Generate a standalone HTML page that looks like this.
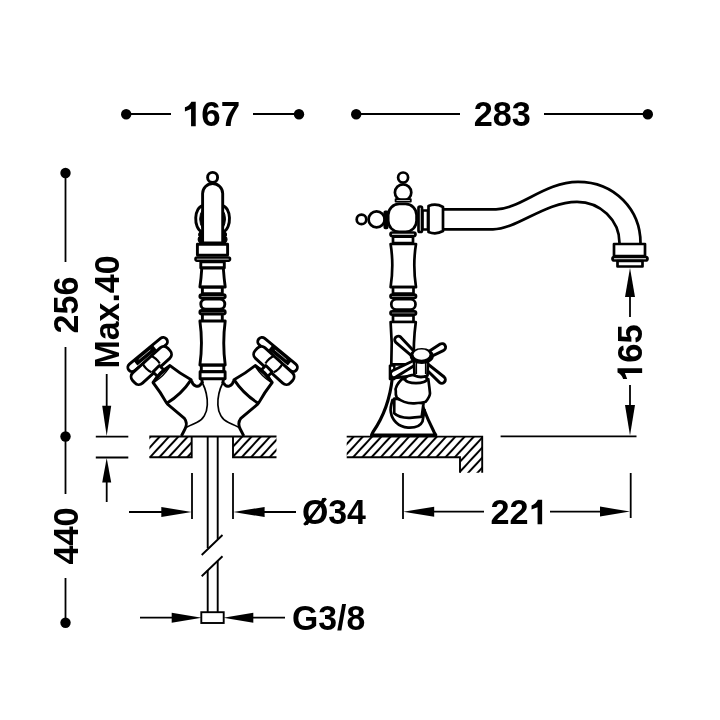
<!DOCTYPE html>
<html><head><meta charset="utf-8">
<style>
html,body{margin:0;padding:0;background:#fff;}
svg{display:block;will-change:transform;}
text{font-family:"Liberation Sans",sans-serif;font-weight:bold;fill:#000;}
</style></head>
<body>
<svg width="720" height="720" viewBox="0 0 720 720">
<defs>
<pattern id="hL" patternUnits="userSpaceOnUse" width="6.835" height="20" patternTransform="translate(177.55,437.5) rotate(42.70)">
<line x1="0" y1="-1" x2="0" y2="21" stroke="#000" stroke-width="2"/><line x1="6.835" y1="-1" x2="6.835" y2="21" stroke="#000" stroke-width="2"/>
</pattern>
<pattern id="hR" patternUnits="userSpaceOnUse" width="6.835" height="20" patternTransform="translate(260.0,437.5) rotate(42.70)">
<line x1="0" y1="-1" x2="0" y2="21" stroke="#000" stroke-width="2"/><line x1="6.835" y1="-1" x2="6.835" y2="21" stroke="#000" stroke-width="2"/>
</pattern>
<pattern id="hF" patternUnits="userSpaceOnUse" width="6.798" height="20" patternTransform="translate(417.55,437.5) rotate(42.70)">
<line x1="0" y1="-1" x2="0" y2="21" stroke="#000" stroke-width="2"/><line x1="6.798" y1="-1" x2="6.798" y2="21" stroke="#000" stroke-width="2"/>
</pattern>




</defs>
<rect width="720" height="720" fill="#fff"/>

<!-- ========== DIMENSIONS ========== -->
<g stroke="#000" stroke-width="1.8" fill="none">
  <!-- 167 -->
  <line x1="126" y1="114" x2="171" y2="114"/>
  <line x1="253" y1="114" x2="299" y2="114"/>
  <!-- 283 -->
  <line x1="356" y1="114" x2="460" y2="114"/>
  <line x1="544" y1="114" x2="648" y2="114"/>
  <!-- 256 -->
  <line x1="65.5" y1="173" x2="65.5" y2="262"/>
  <line x1="65.5" y1="347" x2="65.5" y2="436.5"/>
  <!-- 440 -->
  <line x1="65.5" y1="436.5" x2="65.5" y2="494"/>
  <line x1="65.5" y1="578" x2="65.5" y2="623"/>
  <!-- max 40 -->
  <line x1="106.7" y1="374" x2="106.7" y2="410"/>
  <line x1="95.8" y1="436.7" x2="128.3" y2="436.7"/>
  <line x1="95.8" y1="457.5" x2="128.3" y2="457.5"/>
  <line x1="106.7" y1="478" x2="106.7" y2="502"/>
  <!-- Ø34 -->
  <line x1="192" y1="473" x2="192" y2="519"/>
  <line x1="233" y1="473" x2="233" y2="519"/>
  <line x1="129" y1="512" x2="170" y2="512"/>
  <line x1="255" y1="512" x2="296" y2="512"/>
  <!-- G3/8 -->
  <line x1="140" y1="617.7" x2="180" y2="617.7"/>
  <line x1="245" y1="617.7" x2="285" y2="617.7"/>
  <!-- 221 -->
  <line x1="403" y1="473" x2="403" y2="519"/>
  <line x1="630.7" y1="473" x2="630.7" y2="518"/>
  <line x1="420" y1="511.7" x2="484" y2="511.7"/>
  <line x1="550" y1="511.7" x2="615" y2="511.7"/>
  <!-- 165 -->
  <line x1="630" y1="285" x2="630" y2="317"/>
  <line x1="630" y1="385" x2="630" y2="420"/>
  <line x1="500.6" y1="436.3" x2="636.5" y2="436.3"/>
</g>
<g fill="#000">
  <circle cx="126.2" cy="114.2" r="5.2"/>
  <circle cx="299" cy="114.2" r="5.2"/>
  <circle cx="356.2" cy="114.2" r="5.2"/>
  <circle cx="647.8" cy="114.2" r="5.2"/>
  <circle cx="65.5" cy="173" r="5.2"/>
  <circle cx="65.5" cy="436.5" r="5.2"/>
  <circle cx="65.5" cy="622.7" r="5.2"/>
  <!-- arrowheads -->
  <polygon points="102.2,405.8 111.2,405.8 106.7,436"/>
  <polygon points="102.2,482.5 111.2,482.5 106.7,458"/>
  <polygon points="161.3,507 161.3,517 191.7,512"/>
  <polygon points="264.6,507 264.6,517 233.3,512"/>
  <polygon points="171.7,612.7 171.7,622.7 201.7,617.7"/>
  <polygon points="253.3,612.7 253.3,622.7 223.3,617.7"/>
  <polygon points="434.2,506.7 434.2,516.7 403.3,511.7"/>
  <polygon points="600,506.6 600,516.6 630,511.6"/>
  <polygon points="625,297 635,297 630,268"/>
  <polygon points="625,405 635,405 630,435.5"/>
</g>
<g fill="#000">
<g transform="translate(181.95,126.25) scale(0.9971,1)"><path transform="translate(0.00,0) scale(35.0)" d="M0.395,-0.70 V0 H0.261 V-0.49 L0.085,-0.425 V-0.54 C0.17,-0.57 0.235,-0.625 0.27,-0.70 Z"/><text x="19.47" y="0" font-size="35.0">67</text></g>
<g transform="translate(473.7,126.45) scale(0.9744,1)"><text x="0.00" y="0" font-size="35.2">283</text></g>
<g transform="translate(301.9,524.05) scale(0.9826,1)"><text x="0.00" y="0" font-size="34.5">Ø34</text></g>
<line x1="304.2" y1="524.8" x2="325.9" y2="498.4" stroke="#000" stroke-width="2.6"/>
<g transform="translate(490.6,524.3) scale(0.9799,1)"><text x="0.00" y="0" font-size="34.9">22</text><path transform="translate(38.82,0) scale(34.9)" d="M0.395,-0.70 V0 H0.261 V-0.49 L0.085,-0.425 V-0.54 C0.17,-0.57 0.235,-0.625 0.27,-0.70 Z"/></g>
<g transform="translate(291.95,629.7) scale(0.944,1)"><text x="0.00" y="0" font-size="35.8">G3/8</text></g>
<g transform="translate(77.65,333.4) rotate(-90) scale(0.9799,1)"><text x="0.00" y="0" font-size="34.8">256</text></g>
<g transform="translate(77.65,564.6) rotate(-90) scale(0.9856,1)"><text x="0.00" y="0" font-size="34.8">440</text></g>
<g transform="translate(119.2,368.5) rotate(-90) scale(0.9741,1)"><text x="0.00" y="0" font-size="34.8">Max.40</text></g>
<g transform="translate(642.15,381.9) rotate(-90) scale(0.9801,1)"><path transform="translate(0.00,0) scale(35.2)" d="M0.395,-0.70 V0 H0.261 V-0.49 L0.085,-0.425 V-0.54 C0.17,-0.57 0.235,-0.625 0.27,-0.70 Z"/><text x="19.58" y="0" font-size="35.2">65</text></g>
</g>

<!-- ========== COUNTERTOPS ========== -->
<g>
  <rect x="149.4" y="436.5" width="42.3" height="20.8" fill="url(#hL)"/>
  <rect x="233" y="436.5" width="43.5" height="20.8" fill="url(#hR)"/>
  <path d="M346.7,436.6 H482.2 V472.8 H460 V457.2 H346.7 Z" fill="url(#hF)"/>
</g>
<g stroke="#000" stroke-width="1.9" fill="none">
  <path d="M149.4,436.5 H276.5"/>
  <path d="M149.4,457.3 H191.7 V436.5"/>
  <path d="M276.5,457.3 H233 V436.5"/>
  <path d="M346.7,436.6 H482.2 V472.8"/>
  <path d="M346.7,457.2 H460 V472.8"/>
  <!-- pipe -->
  <path d="M207.7,436.5 V548 M217.7,436.5 V539 M207.7,570 V612 M217.7,561 V612"/>
  <path d="M201.7,555 L222.5,535 M201.7,576.3 L222.5,556.3"/>
  <rect x="201.3" y="612.2" width="22.4" height="10.8" fill="#fff"/>
</g>

<!-- ========== LEFT FAUCET ========== -->
<g stroke="#000" stroke-width="1.7" fill="none">
  <path id="thinL" d="M202.5,383 C206,390 207.6,398 207.3,405 C207,413 203,420 196.7,422.5 C192,424.5 188.5,426 185.5,428"/>
  <path d="M222.7,383 C219.2,390 217.6,398 217.9,405 C218.2,413 222.2,420 228.5,422.5 C233.2,424.5 236.7,426 239.7,428"/>
</g>
<g id="valveL" stroke="#000" stroke-width="2.9" fill="#fff" stroke-linejoin="round">
  <!-- outer contour base -->
  <path d="M166.9,403.7 L184.4,418.3 Q188,423 185,429 L181.4,436" fill="none"/>
  <!-- joint bump -->
  <path d="M191.5,380.6 C192.5,386 199,389 201.6,382.8" fill="none"/>
  <g transform="translate(161.5,374) rotate(45)">
    <g transform="rotate(5.5,-23.6,-4)">
      <rect x="-27.85" y="-28.4" width="8.5" height="48.8" rx="4.25"/>
      <path d="M-24.8,-14 V11" stroke-width="6.5" fill="none"/>
      <path d="M-25.4,-9 V6" stroke-width="0.6" stroke="#fff" fill="none"/>
    </g>
    <rect x="-20.3" y="-22.7" width="14.2" height="47.8" rx="5.5" transform="rotate(2.7,-13.2,1.2)"/>
    <path d="M-21,-5.2 Q-14.5,-7.8 -8.6,-6.2 M-21,5.9 Q-14.5,8.2 -8.3,5.8" stroke-width="2.2" fill="none"/>
    <rect x="-7.5" y="-4.5" width="7.5" height="9"/>
    <path d="M0,-12 Q13,-13.5 25,-17 Q28.5,0 24.5,17 Q12,13.5 0,12 Q-1.5,0 0,-12 Z"/>
    <path d="M0,-12 Q-3.5,0 0,12" stroke-width="2.4" fill="none"/>
    <path d="M0.8,-10.5 Q3,0 0.8,10.5" stroke-width="1.5" fill="none"/>
  </g>
</g>
<use href="#valveL" transform="translate(425.2,0) scale(-1,1)"/>
<g id="lf" stroke="#000" stroke-width="2.9" fill="#fff" stroke-linejoin="round">
  <!-- handle top -->
  <circle cx="212.6" cy="177.4" r="5"/>
  <path d="M202.6,206 A7.2,12.9 0 0 0 201.4,231.5" fill="none"/>
  <path d="M222.6,206 A7.2,12.9 0 0 1 223.8,231.5" fill="none"/>
  <path d="M202.6,209.5 Q196.8,218.5 202.6,229 Z" fill="#000" stroke-width="1"/>
  <path d="M222.6,209.5 Q228.4,218.5 222.6,229 Z" fill="#000" stroke-width="1"/>
  <path d="M201.6,231 C198.2,232.5 198,235.5 199.8,236.5 C197.6,237.5 197.8,241 199.6,242.5 L202.6,242.5 L202.6,231 Z" fill="#000" stroke-width="1.2"/>
  <path d="M223.6,231 C227,232.5 227.2,235.5 225.4,236.5 C227.6,237.5 227.4,241 225.6,242.5 L222.6,242.5 L222.6,231 Z" fill="#000" stroke-width="1.2"/>
  <path d="M202.6,243 V193.6 A10.05,10.05 0 0 1 222.7,193.6 V243 Z"/>
  <rect x="197.4" y="244.3" width="30.2" height="10.8" />
  <rect x="195.4" y="257.5" width="34.7" height="3.2" rx="1.6" stroke-width="2.4"/>
  <rect x="200.8" y="261.8" width="23.5" height="6.2"/>
  <path d="M201.8,268 L223.3,268 Q224,278 225.2,287 L199.9,287 Q201.2,278 201.8,268 Z"/>
  <rect x="202.4" y="287.2" width="19.9" height="6.4"/>
  <rect x="199.9" y="294.6" width="25.3" height="3.4" rx="1.7"/>
  <rect x="200.8" y="299" width="24" height="10.15" rx="5"/>
  <rect x="199.9" y="310.5" width="25.3" height="3.4" rx="1.7"/>
  <rect x="202.4" y="314" width="19.9" height="7.5"/>
  <path d="M199.9,321 Q203,343 199.9,365 H225.2 Q222.3,343 225.2,321 Z"/>
  <rect x="201.3" y="365.2" width="22.5" height="6.5"/>
  <rect x="200.1" y="371.8" width="25" height="7"/>
  <path d="M201.8,379.5 Q202,381.5 202.6,383.5 M223.4,379.5 Q223.2,381.5 222.6,383.5" fill="none"/>
</g>

<!-- ========== RIGHT FAUCET ========== -->
<g id="rf" stroke="#000" stroke-width="2.7" fill="#fff" stroke-linejoin="round">
  <!-- spout -->
  <path d="M444,209.3 H496 C520,209.3 545,181.8 578,181.8 C615,181.8 640.5,210 640.5,243 M444,229.3 H493 C517,229.3 545,201.8 577,201.8 C600,201.8 619.5,220 619.5,243" fill="none"/>
  <rect x="614" y="244" width="31" height="12" />
  <rect x="612.5" y="257" width="35" height="3.5" rx="1.75"/>
  <rect x="617.5" y="261" width="25" height="5.5"/>
  <!-- body -->
  <circle cx="403.1" cy="177.5" r="5"/>
  <circle cx="403.1" cy="192.5" r="8.2"/>
  <rect x="395.6" y="199.2" width="15.2" height="2.4" stroke-width="1.8"/>
  <circle cx="361.5" cy="219.4" r="4.8"/>
  <circle cx="376.6" cy="219.4" r="8"/>
  <rect x="384.8" y="211.8" width="2.4" height="16" rx="0.5"/>
  <rect x="388.2" y="203.95" width="28.35" height="27.9" rx="11" ry="11"/>
  <rect x="418.5" y="206.5" width="3.5" height="25.5" rx="1.5"/>
  <rect x="422.5" y="210.5" width="5.5" height="19"/>
  <path d="M428.5,206 Q436,203 443,207 V231 Q436,235 428.5,232 Z"/>
  <rect x="390.5" y="232.5" width="25" height="3.5" rx="1.75"/>
  <rect x="393" y="236.6" width="20" height="6.4"/>
  <path d="M390.6,244 Q394,265 390.6,287.2 H416 Q412.6,265 416,244 Z"/>
  <rect x="393" y="287.2" width="20.5" height="6.4"/>
  <rect x="390.5" y="294.6" width="25.5" height="3.3" rx="1.65"/>
  <rect x="391.3" y="299.2" width="24.2" height="10.3" rx="5"/>
  <rect x="390.5" y="311.4" width="25.5" height="3.3" rx="1.65"/>
  <rect x="393" y="315.3" width="20.5" height="6.8"/>
  <path d="M390.6,322 Q392.5,343 391.3,364.3 H414 Q413,343 415.8,322 Z"/>
  <!-- base flare -->
  <path d="M392.3,378 C390,400 382,419 373,432 Q371.8,434.3 371.5,435 H435.8 Q435.2,434 434.3,432.5 C430,424 426,415 422.5,406 L413,376 Z" stroke-width="3.1"/>
  <rect x="389.9" y="365.6" width="4.4" height="13.5" stroke-width="2.4"/>
  <!-- valve body -->
  <path d="M392.5,400 C391,405 390,409 390.8,412 C392,420 398,427 408,427.6 C416,428 421,425 422.5,421.5 L424.5,410 Z"/>
  <path d="M394.3,398.5 L394.2,413.3 C398,417 404,418 410,417.8 C415,417.5 419,417 421.7,416.7 L423.5,403.5 Z"/>
  <path d="M401.7,379.2 C397,384 395,388 395.8,391 C395.5,394 396,396 396.7,397.5 C402,402 409,403.5 414.2,403.3 C419,403 423,402.5 425.8,401.7 C428,399 430,396 430,393.3 C429.5,388 428.8,383 428.3,379.2 Z"/>
  <ellipse cx="416" cy="379" rx="11" ry="4.2"/>
  <!-- cross arms -->
  <g stroke-width="2.9">
    <path d="M418.12,361.45 L420.88,358.55 L400.79,337.15 A3.6,3.6 0 0 0 395.81,342.35 Z"/>
    <path d="M418.51,358.26 L420.49,361.74 L443.78,350.33 A3.6,3.6 0 0 0 440.22,344.07 Z"/>
    <path d="M420.46,361.75 L418.54,358.25 L392.37,370.74 A3.6,3.6 0 0 0 395.83,377.06 Z"/>
    <path d="M420.82,358.50 L418.18,361.50 L439.42,382.40 A3.6,3.6 0 0 0 444.18,377.00 Z"/>
  </g>
  <!-- stem -->
  <path d="M414,359 L414.5,375.5 Q421,378.5 427.5,375.5 L428,359 Z" stroke-width="2.8"/>
  <path d="M416.5,362 V374 M425.5,362 V374" stroke-width="1.2" fill="none"/>
  <!-- cap -->
  <ellipse cx="421.8" cy="356" rx="11.3" ry="7.2" fill="#000" stroke-width="1.5"/>
  <ellipse cx="421.5" cy="354.6" rx="8" ry="5.1" stroke="none"/>
</g>
</svg>
</body></html>
